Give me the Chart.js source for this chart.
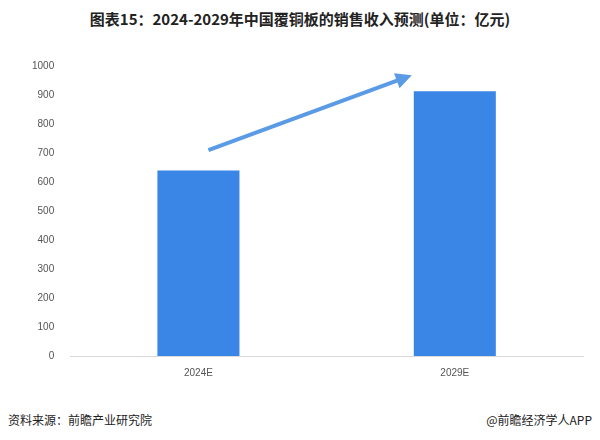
<!DOCTYPE html>
<html><head><meta charset="utf-8">
<script src="https://cdn.jsdelivr.net/npm/chart.js@4"></script>
<style>
body{margin:0;width:600px;height:440px;background:#fff;font-family:"Noto Sans CJK SC",sans-serif;position:relative;overflow:hidden}
#t{position:absolute;top:8px;left:0;width:600px;text-align:center;font-weight:bold;font-size:15px;color:#222}
#c{position:absolute;left:24px;top:52px;width:571px;height:330px}
.f{position:absolute;top:411px;font-size:12px;color:#222}
</style></head><body>
<div id="t">图表15：2024-2029年中国覆铜板的销售收入预测(单位：亿元)</div>
<div id="c"><canvas id="cv"></canvas></div>
<div class="f" style="left:8px">资料来源：前瞻产业研究院</div>
<div class="f" style="right:8px">@前瞻经济学人APP</div>
<script>
const categories=["2024E","2029E"];
const revenue=[640,913];
const yTicks=[0,100,200,300,400,500,600,700,800,900,1000];
const arrowPlugin={id:'arrow',afterDatasetsDraw(ch){
 const c=ch.ctx,x=ch.scales.x,y=ch.scales.y;
 const x1=x.getPixelForValue(0)+10,y1=y.getPixelForValue(710);
 const x2=x.getPixelForValue(1)-43,y2=y.getPixelForValue(968);
 const a=Math.atan2(y2-y1,x2-x1);
 c.save();c.strokeStyle=c.fillStyle='#5b9be6';c.lineWidth=4;
 c.beginPath();c.moveTo(x1,y1);c.lineTo(x2-10*Math.cos(a),y2-10*Math.sin(a));c.stroke();
 c.beginPath();c.moveTo(x2,y2);
 c.lineTo(x2-16*Math.cos(a)+8*Math.sin(a),y2-16*Math.sin(a)-8*Math.cos(a));
 c.lineTo(x2-16*Math.cos(a)-8*Math.sin(a),y2-16*Math.sin(a)+8*Math.cos(a));
 c.closePath();c.fill();c.restore();}};
new Chart(document.getElementById('cv'),{type:'bar',
 data:{labels:categories,datasets:[{data:revenue,backgroundColor:'#3a86e6',barPercentage:0.64,categoryPercentage:0.5}]},
 options:{responsive:true,maintainAspectRatio:false,animation:false,
  plugins:{legend:{display:false},tooltip:{enabled:false}},
  layout:{padding:{top:5,right:12}},
  scales:{x:{grid:{display:false},border:{color:'#d9d9d9'},ticks:{color:'#555',font:{size:10}}},
   y:{min:0,max:1000,afterBuildTicks(s){s.ticks=yTicks.map(v=>({value:v}));},grid:{display:false},border:{display:false},ticks:{color:'#555',font:{size:10},padding:8,callback:v=>String(v)}}}},
 plugins:[arrowPlugin]});
</script></body></html>
